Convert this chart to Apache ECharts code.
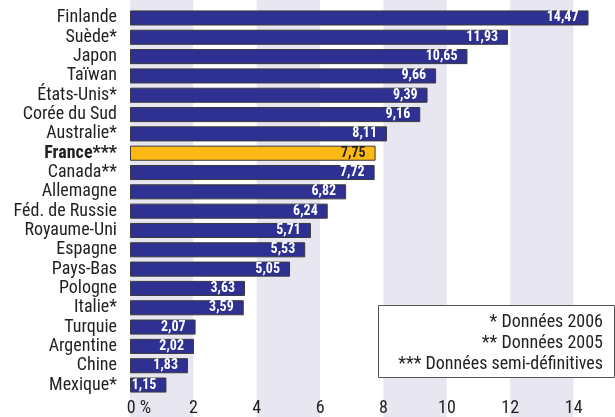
<!DOCTYPE html>
<html>
<head>
<meta charset="utf-8">
<script src="https://cdn.jsdelivr.net/npm/echarts@6/dist/echarts.min.js"></script>
<style>html,body{margin:0;padding:0;background:#fff}#c{width:615px;height:417px}</style>
</head>
<body>
<div id="c"></div>
<script>
var categories = ["Finlande","Suède*","Japon","Taïwan","États-Unis*","Corée du Sud","Australie*","France***","Canada**","Allemagne","Féd. de Russie","Royaume-Uni","Espagne","Pays-Bas","Pologne","Italie*","Turquie","Argentine","Chine","Mexique*"];
var values = [14.47,11.93,10.65,9.66,9.39,9.16,8.11,7.75,7.72,6.82,6.24,5.71,5.53,5.05,3.63,3.59,2.07,2.02,1.83,1.15];
var highlight = "France***";
var xTicks = [0,2,4,6,8,10,12,14];
var notes = ["* Données 2006","** Données 2005","*** Données semi-définitives"];

var FONT = "'Liberation Sans Narrow','Roboto Condensed','Arial Narrow',sans-serif";
var BLUE = '#2E3192', YELLOW = '#FDB913', TEXT = '#231F20';

var chart = echarts.init(document.getElementById('c'), null, {renderer:'canvas'});
var barData = values.map(function(v,i){
  var isH = categories[i] === highlight;
  return {value:v, itemStyle:{color: isH ? YELLOW : BLUE},
          label:{color: isH ? TEXT : '#FFFFFF'}};
});
chart.setOption({
  animation:false,
  textStyle:{fontFamily:FONT},
  grid:[
    {left:130, width:507, top:0, bottom:0, containLabel:false, outerBoundsMode:'none'},
    {left:130, width:507, top:8.3, bottom:22.3, containLabel:false, outerBoundsMode:'none'}
  ],
  xAxis:[
    {gridIndex:0, type:'value', min:0, max:16, interval:2,
     axisLine:{show:false}, axisTick:{show:false}, axisLabel:{show:false},
     splitLine:{show:false},
     splitArea:{show:true, areaStyle:{color:['#E7E6F1','#FFFFFF']}}},
    {gridIndex:1, type:'value', min:0, max:16, interval:2,
     axisLine:{show:false}, axisTick:{show:false}, splitLine:{show:false},
     axisLabel:{fontFamily:FONT, fontSize:18, color:TEXT, margin:5,
       formatter:function(v){
         if (xTicks.indexOf(v) < 0) return '';
         return v === 0 ? '{z|0 %}' : String(v);
       },
       rich:{z:{fontFamily:FONT, fontSize:18, color:TEXT, padding:[0,0,0,18]}}}}
  ],
  yAxis:[
    {gridIndex:0, type:'value', min:0, max:1, show:false},
    {gridIndex:1, type:'category', data:categories, inverse:true,
     axisLine:{show:false}, axisTick:{show:false},
     axisLabel:{interval:0, fontFamily:FONT, fontSize:18, color:TEXT, margin:13,
       formatter:function(v){ return v === highlight ? '{b|'+v+'}' : v; },
       rich:{b:{fontFamily:FONT, fontSize:18, fontWeight:'bold', color:TEXT}}}}
  ],
  series:[{
    type:'bar', xAxisIndex:1, yAxisIndex:1, data:barData,
    barCategoryGap:'22%',
    itemStyle:{borderColor:'#3A3A3A', borderWidth:1},
    label:{show:true, position:'insideRight', distance:10,
      fontFamily:FONT, fontSize:14, fontWeight:'bold',
      formatter:function(p){ return p.value.toFixed(2).replace('.', ','); }}
  }],
  graphic:[
    {type:'rect', shape:{x:378.5, y:305.5, width:236, height:72},
     style:{fill:'#FFFFFF', stroke:'#555555', lineWidth:1}, z:100},
    {type:'text', x:603, y:322, z:101,
     style:{text:notes[0], fontFamily:FONT, fontSize:18, fill:TEXT, textAlign:'right', textVerticalAlign:'middle'}},
    {type:'text', x:603, y:343, z:101,
     style:{text:notes[1], fontFamily:FONT, fontSize:18, fill:TEXT, textAlign:'right', textVerticalAlign:'middle'}},
    {type:'text', x:603, y:364, z:101,
     style:{text:notes[2], fontFamily:FONT, fontSize:18, fill:TEXT, textAlign:'right', textVerticalAlign:'middle'}}
  ]
});
</script>
</body>
</html>
